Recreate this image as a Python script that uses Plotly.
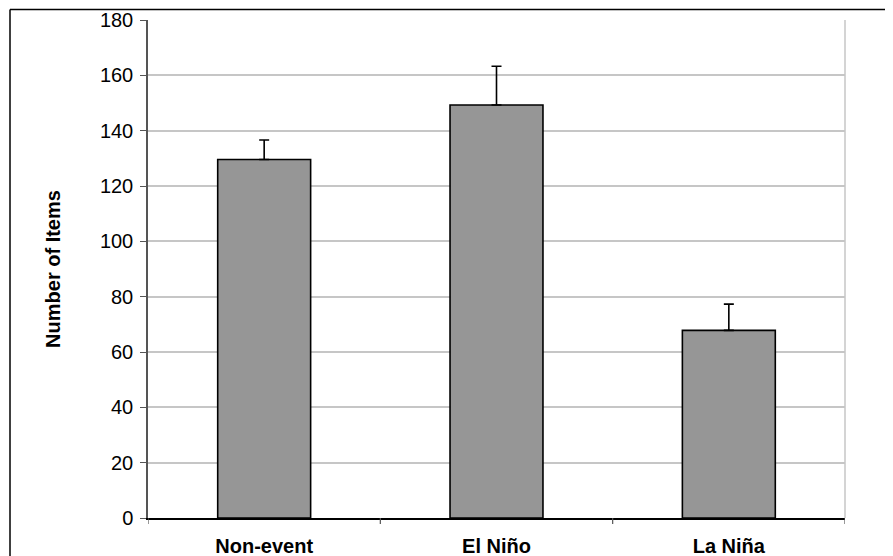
import plotly.graph_objects as go

categories = ["Non-event", "El Niño", "La Niña"]
values = [129.6, 149.3, 67.8]
errors = [7.0, 14.0, 9.5]
y_ticks = [0, 20, 40, 60, 80, 100, 120, 140, 160, 180]

# page body has an 8px margin; offsets below compensate for it
L, T, R, B = 140, 11.5, 56, 46
PW = 893 - L - R
PH = 556 - T - B

fig = go.Figure()
fig.add_trace(go.Bar(
    x=categories, y=values,
    marker=dict(color="#969696", line=dict(color="#000000", width=1.6)),
    width=0.4,
    error_y=dict(type="data", symmetric=False, array=errors,
                 arrayminus=[0] * len(errors),
                 color="#000000", thickness=1.6, width=5),
))

fig.update_layout(
    width=893, height=556,
    margin=dict(l=L, r=R, t=T, b=B),
    paper_bgcolor="white", plot_bgcolor="white",
    showlegend=False,
    font=dict(family="Liberation Sans, Arial, sans-serif", color="#000000"),
    xaxis=dict(
        range=[-0.5, 2.5], automargin=False,
        showline=True, linecolor="#000000", linewidth=1.5,
        ticks="", showgrid=False,
        tickfont=dict(size=20, family="Liberation Sans, Arial, sans-serif", weight="bold"),
        ticklabelstandoff=9,
    ),
    yaxis=dict(
        range=[0, 180], tickvals=y_ticks, automargin=False,
        showline=True, linecolor="#555555", linewidth=1.5,
        ticks="outside", ticklen=6, tickcolor="#555555", tickwidth=1.2,
        showgrid=True, gridcolor="#c6c6c6", gridwidth=1.5,
        zeroline=False,
        tickfont=dict(size=20),
        ticklabelstandoff=3,
        title=dict(text="<b>Number of Items</b>", font=dict(size=20), standoff=34),
    ),
)

# category boundary ticks on the x axis
for xb in [-0.5, 0.5, 1.5, 2.5]:
    fig.add_shape(type="line", xref="x", yref="paper", x0=xb, x1=xb, y0=0, y1=-6 / PH,
                  line=dict(color="#555555", width=1.2))
# right border of plot area
fig.add_shape(type="line", xref="paper", yref="paper", x0=1, x1=1, y0=0, y1=1,
              line=dict(color="#c6c6c6", width=1.5))
# outer chart frame (left, top, right edges)
fx0 = (2 - L) / PW
fx1 = (878 - L) / PW
fy_top = 1 + (T - 1) / PH
fy_bot = -0.2
frame = dict(color="#000000", width=1.5)
fig.add_shape(type="line", xref="paper", yref="paper", x0=fx0, x1=fx0, y0=fy_bot, y1=fy_top, line=frame)
fig.add_shape(type="line", xref="paper", yref="paper", x0=fx1, x1=fx1, y0=fy_bot, y1=fy_top, line=frame)
fig.add_shape(type="line", xref="paper", yref="paper", x0=fx0, x1=fx1, y0=fy_top, y1=fy_top, line=frame)

fig.write_html("out.html")
